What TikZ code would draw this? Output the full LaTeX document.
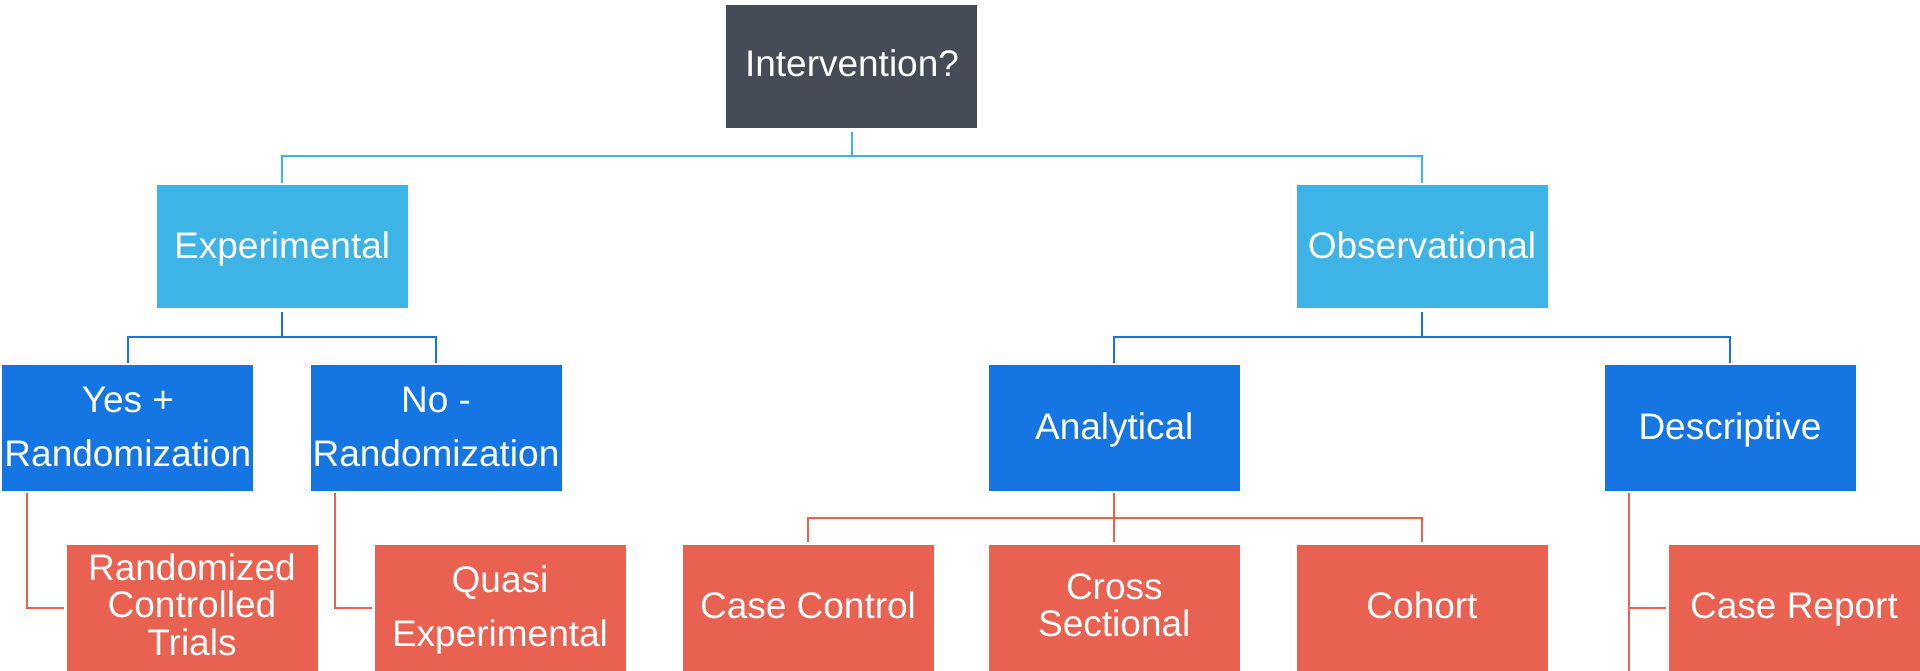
\documentclass[tikz,border=0pt]{standalone}
\usepackage{fontspec}
\setmainfont{Liberation Sans}
\definecolor{slate}{HTML}{464C56}
\definecolor{sky}{HTML}{3DB4E5}
\definecolor{royal}{HTML}{1575E3}
\definecolor{coral}{HTML}{E96151}
\begin{document}
\begin{tikzpicture}[x=1pt,y=-1pt,
  box/.style={rectangle, inner sep=0pt, outer sep=0pt, minimum width=251pt, anchor=north west},
  rootbox/.style={box, fill=slate, minimum height=123pt},
  kindbox/.style={box, fill=sky, minimum height=123pt},
  subbox/.style={box, fill=royal, minimum height=125.4pt},
  leafbox/.style={box, fill=coral, minimum height=125.4pt},
  lbl/.style={anchor=base, inner sep=0pt, text=white, align=center, font=\fontsize{37pt}{54pt}\selectfont},
  tight/.style={font=\fontsize{37pt}{37.5pt}\selectfont},
  wire/.style={line width=2pt},
  wireA/.style={wire, draw=sky},
  wireB/.style={wire, draw=royal},
  wireC/.style={wire, draw=coral}]
\useasboundingbox (0,0) rectangle (1920,671);

% boxes
\node[rootbox] (int)   at (726.4,5.3)   {};
\node[kindbox] (exp)   at (156.9,185.3) {};
\node[kindbox] (obs)   at (1296.7,185.3) {};
\node[subbox]  (yes)   at (2.4,365.3)   {};
\node[subbox]  (no)    at (310.5,365.3) {};
\node[subbox]  (ana)   at (988.8,365.3) {};
\node[subbox]  (desc)  at (1604.8,365.3) {};
\node[leafbox] (rct)   at (66.7,545.3)  {};
\node[leafbox] (quasi) at (374.8,545.3) {};
\node[leafbox] (cc)    at (682.8,545.3) {};
\node[leafbox] (cs)    at (988.8,545.3) {};
\node[leafbox] (coh)   at (1296.8,545.3) {};
\node[leafbox] (cr)    at (1668.5,545.3) {};

% labels (base anchor = baseline of the last line)
\node[lbl] (int-t)   at (852,76.7)    {Intervention?};
\node[lbl] (exp-t)   at (282.2,258.3) {Experimental};
\node[lbl] (obs-t)   at (1422,258.3)  {Observational};
\node[lbl] (yes-t)   at (127.9,466)   {Yes +\\Randomization};
\node[lbl] (no-t)    at (436,466)     {No -\\Randomization};
\node[lbl] (ana-t)   at (1114.3,439.3) {Analytical};
\node[lbl] (desc-t)  at (1730,439.3)  {Descriptive};
\node[lbl,tight] (rct-t) at (192,655) {Randomized\\Controlled\\Trials};
\node[lbl] (quasi-t) at (500,646)     {Quasi\\Experimental};
\node[lbl] (cc-t)    at (808,618.3)   {Case Control};
\node[lbl,tight] (cs-t) at (1114.3,636.7) {Cross\\Sectional};
\node[lbl] (coh-t)   at (1422,618.3)  {Cohort};
\node[lbl] (cr-t)    at (1794,618.3)  {Case Report};

% first level
\coordinate (j1) at ([yshift=-27.7pt]int.south);
\draw[wireA] ([yshift=-3.4pt]int.south) -- (j1);
\draw[wireA, shorten >=2.6pt] (j1) -| (exp.north);
\draw[wireA, shorten >=2.6pt] (j1) -| (obs.north);

% second level
\coordinate (j2) at ([yshift=-28.4pt]exp.south);
\draw[wireB] ([yshift=-3.4pt]exp.south) -- (j2);
\draw[wireB, shorten >=2.6pt] (j2) -| (yes.north);
\draw[wireB, shorten >=2.6pt] (j2) -| (no.north);
\coordinate (j3) at ([yshift=-28.4pt]obs.south);
\draw[wireB] ([yshift=-3.4pt]obs.south) -- (j3);
\draw[wireB, shorten >=2.6pt] (j3) -| (ana.north);
\draw[wireB, shorten >=2.6pt] (j3) -| (desc.north);

% third level
\draw[wireC, shorten <=2.6pt, shorten >=3pt] ([xshift=24.5pt]yes.south west) |- (rct.west);
\draw[wireC, shorten <=2.6pt, shorten >=3pt] ([xshift=24.5pt]no.south west) |- (quasi.west);
\coordinate (j4) at ([yshift=-27.6pt]ana.south);
\draw[wireC] ([yshift=-2.6pt]ana.south) -- (j4);
\draw[wireC, shorten >=3.3pt] (j4) -| (cc.north);
\draw[wireC, shorten >=3.3pt] (j4) -- (cs.north);
\draw[wireC, shorten >=3.3pt] (j4) -| (coh.north);
\coordinate (dend) at (1628.8,671);
\draw[wireC, shorten <=2.6pt] ([xshift=24pt]desc.south west) -- (dend);
\draw[wireC, shorten <=3pt] (cr.west) -- (cr.west -| dend);
\end{tikzpicture}
\end{document}
